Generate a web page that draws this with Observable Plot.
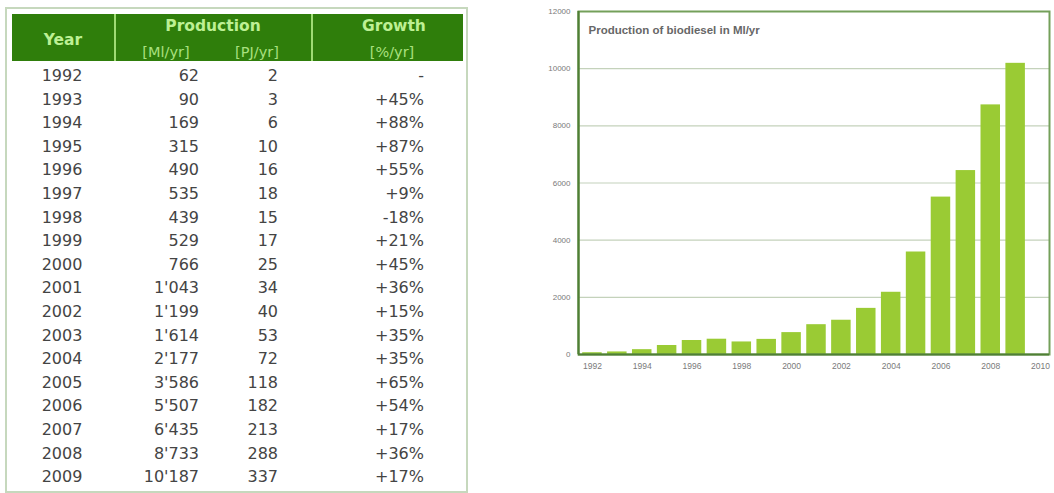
<!DOCTYPE html>
<html>
<head>
<meta charset="utf-8">
<script src="https://cdn.jsdelivr.net/npm/d3@7"></script>
<script src="https://cdn.jsdelivr.net/npm/@observablehq/plot@0.6"></script>
<style>
  html, body { margin: 0; padding: 0; background: #fff; width: 1054px; height: 493px; overflow: hidden; position: relative; }
  .abs { position: absolute; white-space: nowrap; }
  #frame { position: absolute; left: 5px; top: 7px; width: 459px; height: 482px; border: 2px solid #c6d8bd; }
  #head { position: absolute; left: 12px; top: 14px; width: 451px; height: 47px; background: #2f7e0b; }
  .sep { position: absolute; top: 14px; height: 47px; width: 2px; background: #9fdc74; }
  .h { font-family: "DejaVu Sans", Verdana, sans-serif; color: #bdf094; }
  .hb { font-weight: bold; font-size: 15.5px; }
  .hs { font-size: 14.5px; color: #a9e07f; }
  .cell { font-family: "DejaVu Sans", Verdana, sans-serif; font-size: 16px; color: #444; line-height: 20px; height: 20px; }
  #chart { position: absolute; left: 520px; top: 0px; }
</style>
</head>
<body>
<div id="frame"></div>
<div id="head"></div>
<div class="sep" style="left:114px"></div>
<div class="sep" style="left:311px"></div>
<div id="table"></div>
<div id="chart"></div>
<script>
// ---- data ----
const years = [1992, 1993, 1994, 1995, 1996, 1997, 1998, 1999, 2000, 2001, 2002, 2003, 2004, 2005, 2006, 2007, 2008, 2009];
const mlPerYear = [62, 90, 169, 315, 490, 535, 439, 529, 766, 1043, 1199, 1614, 2177, 3586, 5507, 6435, 8733, 10187];
const pjPerYear = [2, 3, 6, 10, 16, 18, 15, 17, 25, 34, 40, 53, 72, 118, 182, 213, 288, 337];
const growth = ["-", "+45%", "+88%", "+87%", "+55%", "+9%", "-18%", "+21%", "+45%", "+36%", "+15%", "+35%", "+35%", "+65%", "+54%", "+17%", "+36%", "+17%"];
const headerMain = ["Year", "Production", "Growth"];
const headerSub = ["[Ml/yr]", "[PJ/yr]", "[%/yr]"];
const yTicks = [0, 2000, 4000, 6000, 8000, 10000, 12000];
const xTicks = [1992, 1994, 1996, 1998, 2000, 2002, 2004, 2006, 2008, 2010];
const chartTitle = "Production of biodiesel in Ml/yr";

// ---- table ----
const fmt = d3.formatLocale({decimal: ".", thousands: "'", grouping: [3], currency: ["", ""]}).format(",d");
const body = d3.select("body");
function place(text, cls, cx, cy, anchor, lh) {
  const el = body.append("div").attr("class", "abs " + cls).text(text);
  el.style("top", (cy - lh / 2) + "px").style("line-height", lh + "px");
  if (anchor === "middle") el.style("left", (cx - 100) + "px").style("width", "200px").style("text-align", "center");
  else el.style("left", (cx - 200) + "px").style("width", "200px").style("text-align", "right");
  return el;
}
place(headerMain[0], "h hb", 63, 40, "middle", 20);
place(headerMain[1], "h hb", 213, 26, "middle", 20);
place(headerMain[2], "h hb", 394, 26, "middle", 20);
place(headerSub[0], "h hs", 166, 52, "middle", 18);
place(headerSub[1], "h hs", 257, 52, "middle", 18);
place(headerSub[2], "h hs", 392, 52, "middle", 18);

const rowStep = 23.6, firstRow = 76;
years.forEach((y, i) => {
  const cy = firstRow + i * rowStep;
  place(String(y), "cell", 62, cy, "middle", 20);
  place(fmt(mlPerYear[i]), "cell", 199, cy, "end", 20);
  place(String(pjPerYear[i]), "cell", 278, cy, "end", 20);
  place(growth[i], "cell", 424, cy, "end", 20);
});

// ---- chart ----
const data = years.map((y, i) => ({year: y, value: mlPerYear[i]}));
const chart = Plot.plot({
  width: 534,
  height: 380,
  marginLeft: 58,
  marginRight: 5,
  marginTop: 11,
  marginBottom: 26,
  style: {fontFamily: "'Liberation Sans', Arial, sans-serif", background: "transparent"},
  x: {type: "linear", domain: [1991.44, 2010.36]},
  y: {domain: [0, 12000]},
  marks: [
    Plot.ruleY(yTicks.filter(d => d > 0 && d < 12000), {stroke: "#c4d2bb", strokeWidth: 1.2}),
    Plot.rectY(data, {x1: d => d.year - 0.5, x2: d => d.year + 0.5, y: "value", fill: "#9acb34", insetLeft: 2.7, insetRight: 2.7}),
    Plot.frame({stroke: "#74a05a", strokeWidth: 2}),
    Plot.ruleY([0], {stroke: "#4f7f35", strokeWidth: 2.2}),
    Plot.ruleX([1991.44], {stroke: "#4f7f35", strokeWidth: 2.2}),
    Plot.axisY({ticks: yTicks, tickFormat: "d", tickSize: 0, tickPadding: 8, fontSize: 8, color: "#7a7a7a", label: null}),
    Plot.axisX({ticks: xTicks, tickFormat: "d", tickSize: 0, tickPadding: 8, fontSize: 8.5, color: "#7a7a7a", label: null}),
    Plot.text([chartTitle], {frameAnchor: "top-left", dx: 10, dy: 19, lineAnchor: "middle", textAnchor: "start", fontSize: 11.5, fontWeight: "bold", fill: "#676767"})
  ]
});
document.getElementById("chart").appendChild(chart);
</script>
</body>
</html>
